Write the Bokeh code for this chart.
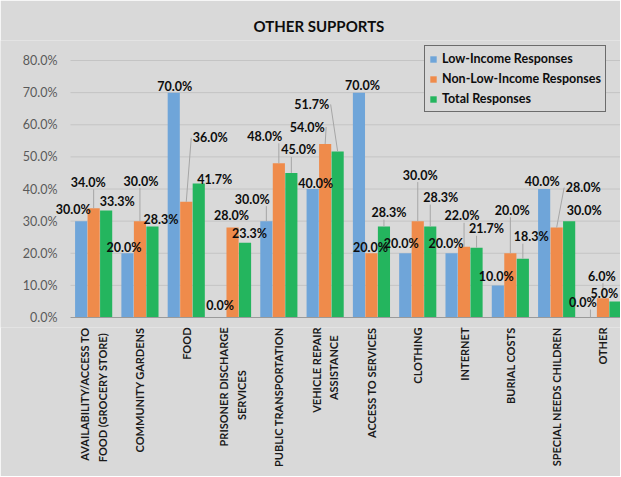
import math
from bokeh.plotting import figure
from bokeh.models import ColumnDataSource, Range1d, FixedTicker, Legend, LegendItem
from bokeh.embed import file_html
from bokeh.resources import INLINE
from bokeh.core.properties import value

# ---------------- data ----------------
categories = [
    "AVAILABILITY/ACCESS TO\nFOOD (GROCERY STORE)",
    "COMMUNITY GARDENS",
    "FOOD",
    "PRISONER DISCHARGE\nSERVICES",
    "PUBLIC TRANSPORTATION",
    "VEHICLE REPAIR\nASSISTANCE",
    "ACCESS TO SERVICES",
    "CLOTHING",
    "INTERNET",
    "BURIAL COSTS",
    "SPECIAL NEEDS CHILDREN",
    "OTHER",
]
low_income = [30.0, 20.0, 70.0, 0.0, 30.0, 40.0, 70.0, 20.0, 20.0, 10.0, 40.0, 0.0]
non_low_income = [34.0, 30.0, 36.0, 28.0, 48.0, 54.0, 20.0, 30.0, 22.0, 20.0, 28.0, 6.0]
total = [33.3, 28.3, 41.7, 23.3, 45.0, 51.7, 28.3, 28.3, 21.7, 18.3, 30.0, 5.0]
series_names = ["Low-Income Responses", "Non-Low-Income Responses", "Total Responses"]
y_ticks = [0, 10, 20, 30, 40, 50, 60, 70, 80]

# ---------------- styling ----------------
colors = ["#6fa5d9", "#ef8b4b", "#24b55e"]
bar_shift = [-0.27, 0.0, 0.27]
bar_w = 0.262
BG = "#d9d9d9"
FONT = "Lato"
# non-breaking padding so second lines of wrapped labels sit centred
second_line_pad = {0: 2, 3: 16, 5: 3}

# label nudges in screen pixels (dx right, dy down) relative to bar top
nudge_low = [(-8, -12), (-3.5, -6), (1, -6), (0, -12), (-14, -22), (3, -6),
             (3.5, -7), (-4, -10), (-5.5, -10), (-1.5, -9), (-2, -8), (-7.5, -15)]
nudge_non = [(-5.5, -26), (1, -40), (24, -64), (-1, -12), (-14, -27), (-18, -17),
             (-1, -6), (2.5, -46), (-2, -31), (2, -43), (26.5, -40), (-1, -22)]
nudge_tot = [(11, -9), (8.5, -7), (16, -4), (4.5, -9), (7.5, -23), (-26, -47),
             (5, -14), (10.5, -29), (10, -19), (8.5, -22), (15, -11), (-11, -8)]

W, H = 620, 476
BT = 40                 # frame top (title band above)
AXIS_Y_PX = 317         # pixel row of the category axis line
AXIS_GAP = 10           # frame continues below the axis line (room for "0.0%")
BB = H - AXIS_Y_PX - AXIS_GAP
CAT_PX = 46.3           # pixel width of one category
LEFT_PX = 70            # pixel position of the plot-area left edge
X0 = -0.5 - LEFT_PX / CAT_PX
X1 = -0.5 + (W - LEFT_PX) / CAT_PX
Y_PX = 3.2125           # pixels per percentage point
Y0 = -AXIS_GAP / Y_PX
Y1 = Y0 + (H - BT - BB) / Y_PX

p = figure(width=W, height=H, output_backend="svg", toolbar_location=None,
           x_range=Range1d(X0, X1), y_range=Range1d(Y0, Y1),
           min_border_left=0, min_border_right=0, min_border_top=BT, min_border_bottom=BB,
           title="OTHER SUPPORTS")
p.background_fill_color = BG
p.border_fill_color = BG
p.outline_line_color = None

p.title.align = "left"
p.title.offset = 253
p.title.text_font = FONT
p.title.text_font_size = "15px"
p.title.text_font_style = "bold"
p.title.text_color = "#0d0d0d"
p.title.standoff = 11

px_x = W / (X1 - X0)
px_y = (H - BT - BB) / (Y1 - Y0)

left_edge = -0.5
right_edge = X1

# gridlines (plot-area only)
grid_ticks = [t for t in y_ticks if t > 0]
p.segment(x0=[left_edge] * len(grid_ticks), y0=grid_ticks,
          x1=[right_edge] * len(grid_ticks), y1=grid_ticks,
          line_color="#c4c4c4", line_width=1)

series = [low_income, non_low_income, total]
nudges = [nudge_low, nudge_non, nudge_tot]
idx = list(range(len(categories)))

items = []
lx, ly, lt, ldx, ldy = [], [], [], [], []
sx0, sy0, sx1, sy1 = [], [], [], []
for k, vals in enumerate(series):
    xs = [i + bar_shift[k] for i in idx]
    src = ColumnDataSource(dict(x=xs, top=vals))
    r = p.vbar(x="x", top="top", width=bar_w, bottom=0, source=src,
               fill_color=colors[k], line_color=None)
    items.append(LegendItem(label=series_names[k], renderers=[r]))
    for i, v in enumerate(vals):
        dx, dy = nudges[k][i]
        lx.append(xs[i]); ly.append(v); lt.append(f"{v:.1f}%")
        ldx.append(dx); ldy.append(dy)
        if dy <= -14:
            if abs(dx) > 17:
                ex = dx - math.copysign(19, dx)
                ey = dy
            else:
                ex = min(max(0, dx - 15), dx + 15)
                ey = dy + 7
            sx0.append(xs[i]); sy0.append(v)
            sx1.append(xs[i] + ex / px_x); sy1.append(v - ey / px_y)

# category axis line
p.segment(x0=[left_edge], y0=[y_ticks[0]], x1=[right_edge], y1=[y_ticks[0]],
          line_color="#9a9a9a", line_width=1)

# leader lines
p.segment(x0=sx0, y0=sy0, x1=sx1, y1=sy1, line_color="#a6a6a6", line_width=1)

lab = ColumnDataSource(dict(x=lx, y=ly, text=lt, dx=ldx, dy=ldy))
p.text(x="x", y="y", text="text", x_offset="dx", y_offset="dy", source=lab,
       text_align="center", text_baseline="middle", text_font=value(FONT),
       text_font_style="bold", text_font_size="12.5px", text_color="#0d0d0d")

# y tick labels (value axis)
ytl = ColumnDataSource(dict(x=[left_edge] * len(y_ticks), y=y_ticks,
                            text=[f"{t:.1f}%" for t in y_ticks]))
p.text(x="x", y="y", text="text", source=ytl, x_offset=-13,
       text_align="right", text_baseline="middle", text_font=value(FONT),
       text_font_size="12.5px", text_color="#595959")
p.yaxis.visible = False

# category axis labels
def padded(i, c):
    if "\n" in c and i in second_line_pad:
        a, b = c.split("\n")
        return a + "\n" + b + "\u00a0" * second_line_pad[i]
    return c

p.xaxis.ticker = FixedTicker(ticks=idx)
p.xaxis.major_label_overrides = {i: padded(i, c) for i, c in zip(idx, categories)}
p.xaxis.major_label_orientation = math.pi / 2
p.xaxis.axis_line_color = None
p.xaxis.major_tick_line_color = None
p.xaxis.minor_tick_line_color = None
p.xaxis.major_tick_out = 0
p.xaxis.major_tick_in = 0
p.xaxis.major_label_standoff = 0
p.xaxis.major_label_text_font = FONT
p.xaxis.major_label_text_font_size = "11px"
p.xaxis.major_label_text_font_style = "bold"
p.xaxis.major_label_text_color = "#1a1a1a"
p.xaxis.major_label_text_line_height = 1.35

p.xgrid.visible = False
p.ygrid.visible = False

# legend: bottom-left corner given in frame pixels
legend = Legend(items=items, location=(424, (H - BB) - 112))
legend.border_line_color = "#000000"
legend.border_line_width = 1
legend.background_fill_color = BG
legend.background_fill_alpha = 1
legend.label_text_font = FONT
legend.label_text_font_style = "bold"
legend.label_text_font_size = "12.5px"
legend.label_text_color = "#0d0d0d"
legend.glyph_width = 8
legend.glyph_height = 8
legend.label_standoff = 5
legend.label_height = 17
legend.spacing = 3
legend.padding = 4
legend.margin = 0
p.add_layout(legend, "center")

open("out.html", "w").write(file_html(p, INLINE))
